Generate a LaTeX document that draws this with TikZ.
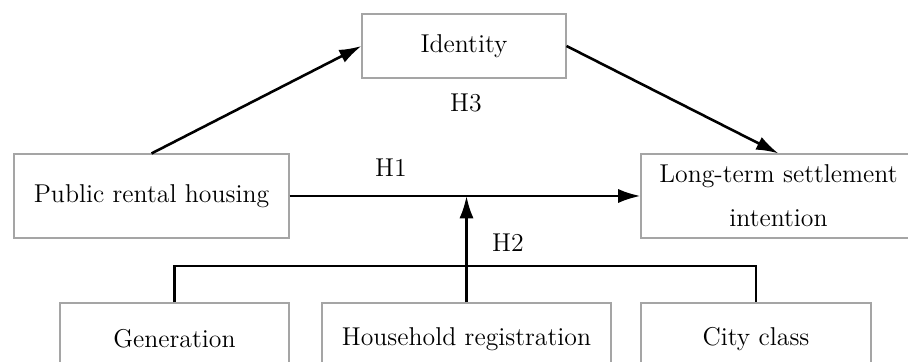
\documentclass[tikz,border=0pt]{standalone}
\definecolor{BoxGray}{RGB}{165, 165, 165}
\usepackage{tikz}
\usetikzlibrary{arrows.meta, positioning}

\begin{document}
\begin{tikzpicture}[x=0.015cm, y=-0.015cm, font=\fontsize{11}{18.8}\selectfont,
  box/.style={draw=BoxGray, line width=0.45pt, inner sep=0pt, align=center},
  link/.style={line width=1.1pt, -{Latex[length=9.5pt, width=6pt]}},
  bar/.style={line width=1.1pt}]
\useasboundingbox (0,0) rectangle (908,362);
\clip (0,0) rectangle (908,362);
\node[box, minimum width=204*0.015cm, minimum height=64*0.015cm] (identity) at (464,46) {Identity};
\node[box, minimum width=275*0.015cm, minimum height=84*0.015cm] (housing) at (151.5,196) {Public rental housing};
\node[box, minimum width=275*0.015cm, minimum height=84*0.015cm] (settle) at (778.5,196) {Long-term settlement\\intention};
\node[box, minimum width=229*0.015cm, minimum height=72*0.015cm] (generation) at (174.5,339) {Generation};
\node[box, minimum width=289*0.015cm, minimum height=72*0.015cm] (hukou) at (466.5,339) {Household registration};
\node[box, minimum width=230*0.015cm, minimum height=72*0.015cm] (cityclass) at (756,339) {City class};
\node (h3) at (466,103) {H3};
\node (h1) at (391,168) {H1};
\node (h2) at (508,243) {H2};
\coordinate (joint) at (466.5,266);
\draw[link] (housing.north) -- (identity.west);
\draw[link] (identity.east) -- (settle.north);
\draw[link] (housing.east) -- (settle.west);
\draw[bar] (generation.north) |- (joint) -| (cityclass.north);
\draw[link] (hukou.north) -- (hukou.north |- housing.east);
\end{tikzpicture}
\end{document}
